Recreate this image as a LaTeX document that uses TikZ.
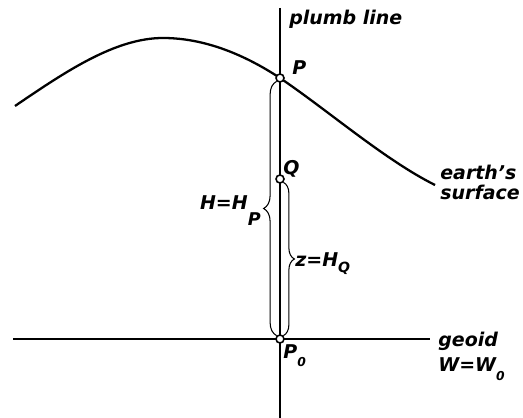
\documentclass[tikz,border=0pt]{standalone}
\usepackage{fontspec}
\setmainfont{DejaVu Sans}
\usetikzlibrary{decorations.pathreplacing}
\tikzset{
  ln/.style={line width=1.1pt},
  surf/.style={line width=1.3pt},
  brc/.style={line width=0.6pt, decorate, decoration={brace, amplitude=#1}},
  pnt/.style={circle, draw, fill=white, line width=0.9pt, inner sep=0pt, minimum size=0.16cm},
  lbl/.style={font=\bfseries\itshape\fontsize{10.8}{11.4}\selectfont, inner sep=0pt},
}
\newcommand{\lowidx}[3]{\raisebox{#1}{\fontsize{#2}{#2}\selectfont #3}}

\begin{document}
\begin{tikzpicture}[x=0.02cm, y=-0.02cm]
\useasboundingbox (0,0) rectangle (523,418);

% ── Puntos sobre la vertical ────────────────────────────────
\coordinate (P) at (280,78);
\coordinate (Q) at (280,179);
\coordinate (Pzero) at (280,339);

% ── Vertical y geoide ───────────────────────────────────────
\coordinate (plumbtop) at (280,8);
\coordinate (plumbbot) at (280,418);
\coordinate (geoidw) at (13,339);
\coordinate (geoide) at (430,339);
\draw[ln] (plumbtop) -- (plumbbot);
\draw[ln] (geoidw) -- (geoide);

% ── Superficie terrestre ────────────────────────────────────
\draw[surf] (15,106) .. controls (65,72) and (115,38) .. (163,38)
  .. controls (205,38) and (245,55) .. (P)
  .. controls (330,112) and (385,160) .. (435,185);

% ── Nodos de los puntos ─────────────────────────────────────
\node[pnt] (nP) at (P) {};
\node[pnt] (nQ) at (Q) {};
\node[pnt] (nPzero) at (Pzero) {};

% ── Llaves ──────────────────────────────────────────────────
\draw[brc=0.26cm] (nPzero.north west) -- (nP.south west);
\draw[brc=0.22cm] (nQ.south east) -- (nPzero.north east);

% ── Rotulos ─────────────────────────────────────────────────
\node[lbl, anchor=base west] (lplumb) at (289,25) {plumb line};
\node[lbl, anchor=base west] (lP) at (292,75) {P};
\node[lbl, anchor=base west] (lQ) at (283,175) {Q};
\node[lbl, anchor=base west] (lPzero) at (283,358) {P\lowidx{-5pt}{7}{0}};
\node[lbl, anchor=base east] (lH) at (261,210) {H=H\lowidx{-9pt}{10}{P}};
\node[lbl, anchor=base west] (lz) at (295,266) {z=H\lowidx{-3.5pt}{8}{Q}};
\node[lbl, anchor=north west, align=left] (lsurf) at (440,165) {earth's\\surface};
\node[lbl, anchor=north west, align=left] (lgeoid) at (438,332) {geoid\\[2.8pt]W=W\lowidx{-5pt}{7}{0}};

\end{tikzpicture}
\end{document}
